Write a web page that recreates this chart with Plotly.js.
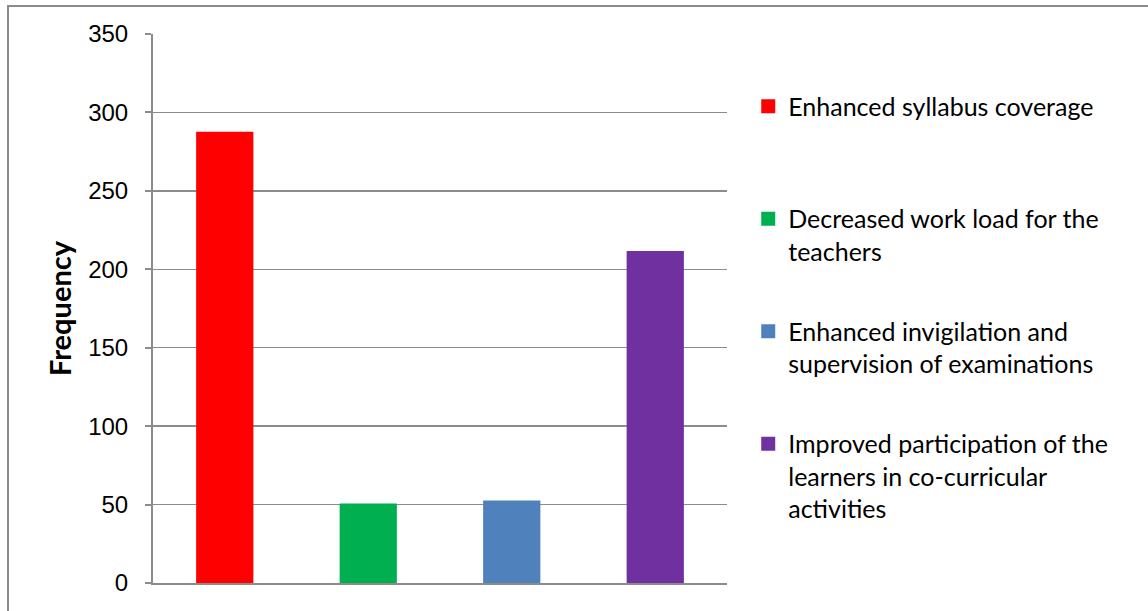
<!DOCTYPE html>
<html>
<head>
<meta charset="utf-8">
<script src="https://cdn.plot.ly/plotly-3.0.1.min.js"></script>
<style>
  html, body { margin: 0; padding: 0; background: #fff; overflow: hidden; }
  #frame { position: absolute; left: 7px; top: 5px; width: 1160px; height: 620px;
           border-top: 2px solid #8c8c8c; border-left: 2px solid #8c8c8c; }
  #chart { position: absolute; left: 0; top: 0; width: 1148px; height: 611px; }
</style>
</head>
<body>
<div id="frame"></div>
<div id="chart"></div>
<script>
const categories = [
  "Enhanced syllabus coverage",
  "Decreased work load for the teachers",
  "Enhanced invigilation and supervision of examinations",
  "Improved participation of the learners in co-curricular activities"
];
const legendLabels = [
  "Enhanced syllabus coverage",
  "Decreased work load for the<br>teachers",
  "Enhanced invigilation and<br>supervision of examinations",
  "Improved participation of the<br>learners in co-curricular<br>activities"
];
const frequency = [287, 50, 52, 211];
const colors = ["#ff0000", "#00b050", "#4f81bd", "#7030a0"];
const yTicks = [0, 50, 100, 150, 200, 250, 300, 350];

function pad(label) {
  const n = label.split("<br>").length;
  let s = label;
  for (let i = n; i < 3; i++) s += "<br> ";
  return s;
}

const traces = categories.map((c, i) => ({
  type: "bar",
  x: [c],
  y: [frequency[i]],
  name: pad(legendLabels[i]),
  legendgroup: "g" + i,
  width: 0.385,
  marker: { color: colors[i], line: { width: 2, color: colors[i] } },
  hoverinfo: "x+y"
}));

const layout = {
  width: 1148, height: 611,
  margin: { l: 153, r: 421, t: 34, b: 28 },
  paper_bgcolor: "rgba(0,0,0,0)",
  plot_bgcolor: "rgba(0,0,0,0)",
  barmode: "overlay",
  showlegend: true,
  font: { family: "Lato, 'Liberation Sans', sans-serif", color: "#000" },
  xaxis: {
    type: "category",
    categoryorder: "array",
    categoryarray: categories,
    showticklabels: false,
    ticks: "",
    showline: true, linecolor: "#8c8c8c", linewidth: 2,
    showgrid: false, zeroline: false
  },
  yaxis: {
    range: [0, 350],
    tickvals: yTicks,
    ticktext: yTicks.map(String),
    ticks: "outside", ticklen: 6, tickcolor: "#8c8c8c", tickwidth: 2,
    ticklabelstandoff: 12,
    tickfont: { family: "'Liberation Sans', Arial, sans-serif", size: 24, color: "#000" },
    showline: true, linecolor: "#8c8c8c", linewidth: 2,
    showgrid: true, gridcolor: "#8c8c8c", gridwidth: 1.5,
    zeroline: false,
    title: { text: "<b>Frequency</b>", standoff: 8,
             font: { family: "Lato, sans-serif", size: 29, color: "#000" } }
  },
  legend: {
    x: 1.037, xanchor: "left",
    y: 0.91, yanchor: "top",
    valign: "top",
    traceorder: "grouped",
    tracegroupgap: 12,
    font: { family: "Lato, sans-serif", size: 25, color: "#000" },
    bgcolor: "rgba(0,0,0,0)", borderwidth: 0
  }
};

Plotly.newPlot("chart", traces, layout, { displayModeBar: false, staticPlot: true });
</script>
</body>
</html>
